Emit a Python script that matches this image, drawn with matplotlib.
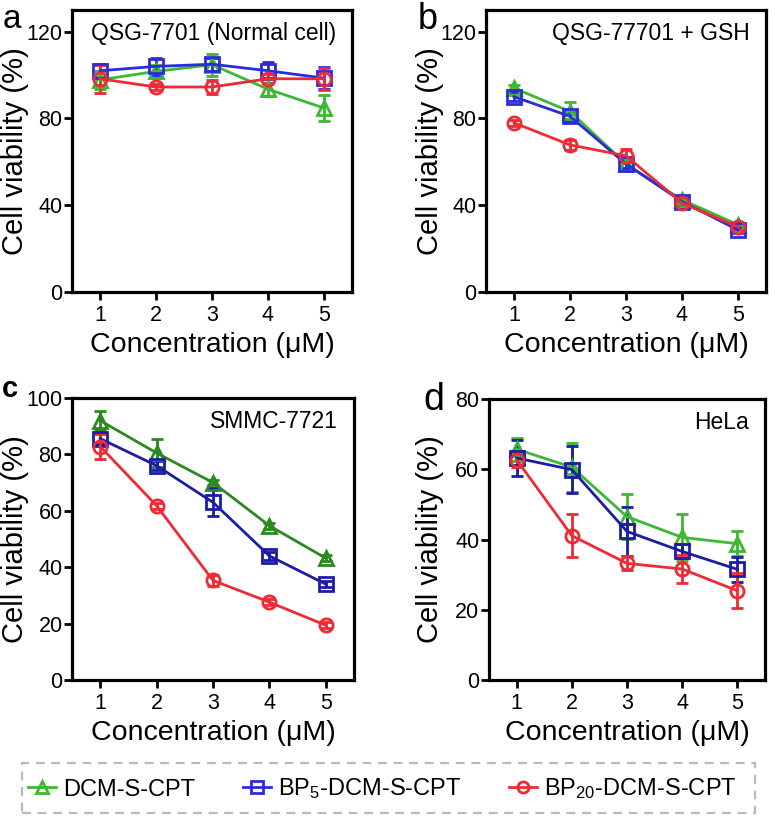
import matplotlib
matplotlib.use("Agg")
import matplotlib.pyplot as plt
import matplotlib.transforms as mtransforms
from matplotlib.patches import Rectangle
from matplotlib.lines import Line2D

plt.rcParams['font.family'] = ['Liberation Sans', 'DejaVu Sans']
plt.rcParams['mathtext.fontset'] = 'custom'
plt.rcParams['mathtext.rm'] = 'Liberation Sans'
plt.rcParams['mathtext.it'] = 'Liberation Sans'

conc = [1, 2, 3, 4, 5]
series_names = ["DCM-S-CPT", "BP$_5$-DCM-S-CPT", "BP$_{20}$-DCM-S-CPT"]

# Panel a: QSG-7701 (Normal cell)
a_green = [97.8, 101.7, 104.8, 93.5, 84.8]
a_green_err = [4, 3, 5, 3, 6]
a_blue = [102, 104, 105, 102, 98.6]
a_blue_err = [3, 4, 3, 4, 5]
a_red = [98.3, 94.5, 94.5, 98.3, 98.3]
a_red_err = [6.5, 1.5, 3, 2, 5]

# Panel b: QSG-77701 + GSH
b_green = [94, 83.2, 59, 42.5, 31]
b_green_err = [1.5, 4.5, 2, 1.5, 1.5]
b_blue = [90, 81, 59, 41.7, 28.6]
b_blue_err = [2, 2, 2, 2, 1.5]
b_red = [78, 67.8, 62.8, 41, 30]
b_red_err = [1.5, 2.5, 3, 1.5, 1.5]

# Panel c: SMMC-7721
c_green = [92, 80.5, 70, 54.7, 43.2]
c_green_err = [3.5, 5, 1, 1, 1]
c_blue = [85.6, 76, 63, 44, 34]
c_blue_err = [2, 1.5, 5, 1.5, 1]
c_red = [82.8, 61.8, 35.3, 27.6, 19.4]
c_red_err = [4.5, 1, 2, 1, 1]

# Panel d: HeLa
d_green = [65.7, 60.6, 46.5, 40.6, 38.8]
d_green_err = [3.3, 7, 6.4, 6.7, 3.5]
d_blue = [63.2, 59.9, 42.3, 36.6, 31.5]
d_blue_err = [5, 6.6, 7, 2, 3.5]
d_red = [62.7, 41.1, 33.2, 31.6, 25.4]
d_red_err = [2, 6.2, 2, 4, 5]

panels = [
    dict(letter="a", lsize=24, lweight="normal", lpos=(3, 28), title="QSG-7701 (Normal cell)",
         ylim=130, yticks=[0, 40, 80, 120],
         data=[(a_green, a_green_err), (a_blue, a_blue_err), (a_red, a_red_err)],
         colors=["#3cb832", "#2b2bdc", "#ee2a36"], rect=[72, 10, 352, 292], ylx=29),
    dict(letter="b", lsize=26, lweight="normal", lpos=(418, 29), title="QSG-77701 + GSH",
         ylim=130, yticks=[0, 40, 80, 120],
         data=[(b_green, b_green_err), (b_blue, b_blue_err), (b_red, b_red_err)],
         colors=["#3cb832", "#2b2bdc", "#ee2a36"], rect=[486, 10, 766, 292], ylx=444),
    dict(letter="c", lsize=21, lweight="bold", lpos=(2, 397), title="SMMC-7721",
         ylim=100, yticks=[0, 20, 40, 60, 80, 100],
         data=[(c_green, c_green_err), (c_blue, c_blue_err), (c_red, c_red_err)],
         colors=["#2a8a1e", "#1c1ca8", "#ee2a36"], rect=[72, 398, 354, 680], ylx=29),
    dict(letter="d", lsize=27, lweight="normal", lpos=(423, 410), title="HeLa",
         ylim=80, yticks=[0, 20, 40, 60, 80],
         data=[(d_green, d_green_err), (d_blue, d_blue_err), (d_red, d_red_err)],
         colors=["#3cb832", "#1c1ca8", "#ee2a36"], rect=[489, 399, 765, 680], ylx=444),
]

W, H = 775, 817
fig = plt.figure(figsize=(W / 100, H / 100), dpi=100)
markers = ["^", "s", "o"]
PT = 72 / 100  # points per pixel

for p in panels:
    x0, y0, x1, y1 = p["rect"]
    ax = fig.add_axes([x0 / W, 1 - y1 / H, (x1 - x0) / W, (y1 - y0) / H])
    for (vals, err), col, mk in zip(p["data"], p["colors"], markers):
        ax.errorbar(conc, vals, yerr=err, color=col, marker=mk, markersize=9.5,
                    markerfacecolor="none", markeredgewidth=2, linewidth=2,
                    capsize=4.5, capthick=2, elinewidth=2)
    ax.set_xlim(0.5, 5.5)
    ax.set_ylim(0, p["ylim"])
    ax.set_yticks(p["yticks"])
    ax.set_xticks(conc)
    for s in ax.spines.values():
        s.set_linewidth(2.3)
    ax.tick_params(axis="both", direction="out", length=8 * PT, width=2, labelsize=15.5)
    ax.tick_params(axis="y", pad=1.5 * PT)
    ax.tick_params(axis="x", pad=5 * PT)
    ax.set_xlabel("Concentration (μM)", fontsize=20.5)
    ax.set_ylabel("Cell viability (%)", fontsize=21)
    axh = y1 - y0
    ax.xaxis.set_label_coords(0.5, -40 / axh)
    trans = mtransforms.blended_transform_factory(fig.transFigure, ax.transAxes)
    ax.yaxis.set_label_coords(p["ylx"] / W, 0.5, transform=trans)
    ax.text(x1 - 16, H - (y0 + 30), p["title"], transform=None, ha="right",
            va="baseline", fontsize=16.5)
    fig.text(p["lpos"][0] / W, 1 - p["lpos"][1] / H, p["letter"], ha="left",
             va="baseline", fontsize=p["lsize"], fontweight=p["lweight"])

# Legend
leg_colors = ["#3cb832", "#2b2bdc", "#ee2a36"]
handles = [Line2D([], [], color=c, marker=m, markersize=8, markerfacecolor="none",
                  markeredgewidth=2, linewidth=2) for c, m in zip(leg_colors, markers)]
leg = fig.legend(handles, series_names, loc="center left",
                 bbox_to_anchor=(28 / W, 1 - 789 / H), ncol=3, fontsize=17,
                 frameon=False, handlelength=1.2, handletextpad=0.3,
                 columnspacing=2.0, borderpad=0, borderaxespad=0)
box = Rectangle((22 / W, 1 - 813 / H), (755 - 22) / W, 50 / H, transform=fig.transFigure,
                fill=False, edgecolor="#b4bcc0", linestyle=(0, (4, 3)), linewidth=1.6)
fig.add_artist(box)

fig.savefig("out.png", dpi=100)
